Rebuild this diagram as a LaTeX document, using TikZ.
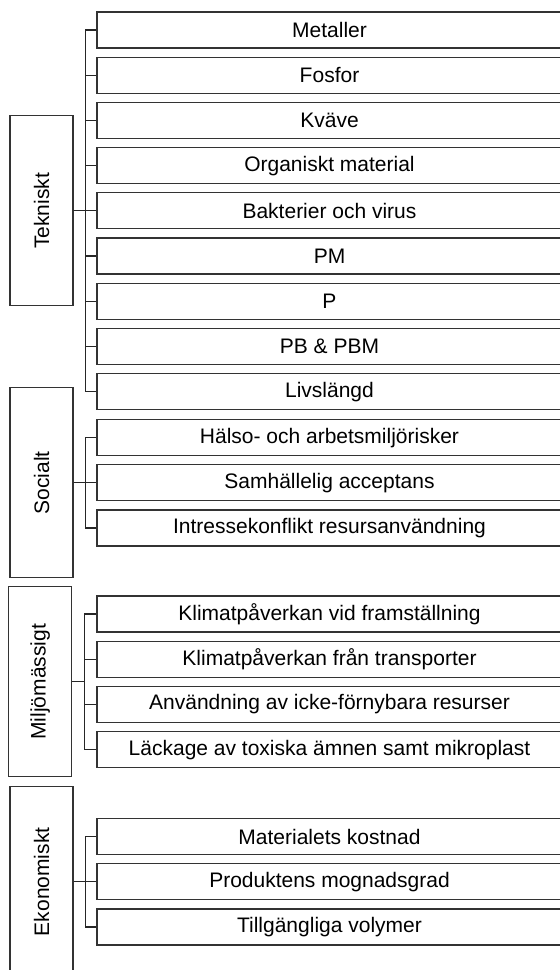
\documentclass[tikz,border=0pt]{standalone}
\usepackage{fontspec}
\setmainfont{Liberation Sans}
\usepackage{tikz}
\usetikzlibrary{positioning, calc}

\begin{document}
\begin{tikzpicture}[
    x=0.5pt, y=0.5pt,
    font=\fontsize{10.5}{12}\selectfont,
    item/.style={rectangle, draw=black!80, line width=0.6pt, minimum width=232.5pt, minimum height=18pt, inner sep=0pt, align=center},
    group/.style={rectangle, draw=black!80, line width=0.6pt, minimum width=31.5pt, minimum height=95pt, inner sep=0pt},
    link/.style={draw=black!85, line width=0.6pt}
]
    \useasboundingbox (0,0) rectangle (560,-970);

    % Tekniskt
    \node[item] (met) at (329.5,-30) {Metaller};
    \node[item, below=4pt of met] (fos) {Fosfor};
    \node[item, below=4pt of fos] (kva) {Kväve};
    \node[item, below=4pt of kva] (org) {Organiskt material};
    \node[item, below=4pt of org] (bak) {Bakterier och virus};
    \node[item, below=4pt of bak] (pm) {PM};
    \node[item, below=4pt of pm] (p) {P};
    \node[item, below=4pt of p] (pb) {PB \& PBM};
    \node[item, below=4pt of pb] (liv) {Livslängd};
    \node[group, left=11.4pt of bak] (tek) {\rotatebox{90}{Tekniskt}};

    % Socialt
    \node[item, below=4.4pt of liv] (hal) {Hälso- och arbetsmiljörisker};
    \node[item, below=4pt of hal] (sam) {Samhällelig acceptans};
    \node[item, below=4pt of sam] (int) {Intressekonflikt resursanvändning};
    \node[group, left=11.4pt of sam] (soc) {\rotatebox{90}{Socialt}};

    % Miljömässigt
    \node[item, below=24.4pt of int] (kfr) {Klimatpåverkan vid framställning};
    \node[item, below=4pt of kfr] (ktr) {Klimatpåverkan från transporter};
    \node[item, below=4pt of ktr] (anv) {Användning av icke-förnybara resurser};
    \node[item, below=4pt of anv] (lac) {Läckage av toxiska ämnen samt mikroplast};
    \node[group, anchor=east] (mil) at ($(ktr.west)!0.5!(anv.west)+(-24,0)$) {\rotatebox{90}{Miljömässigt}};

    % Ekonomiskt
    \node[item, below=24.9pt of lac] (mat) {Materialets kostnad};
    \node[item, below=4pt of mat] (pro) {Produktens mognadsgrad};
    \node[item, below=4pt of pro] (til) {Tillgängliga volymer};
    \node[group, left=11.4pt of pro] (eko) {\rotatebox{90}{Ekonomiskt}};

    % Connectors
    \foreach \c in {met,fos,kva,org,bak,pm,p,pb,liv}
        \draw[link] (tek.east) -- ++(12,0) |- (\c.west);
    \foreach \c in {hal,sam,int}
        \draw[link] (soc.east) -- ++(12,0) |- (\c.west);
    \foreach \c in {kfr,ktr,anv,lac}
        \draw[link] (mil.east) -- ++(12,0) |- (\c.west);
    \foreach \c in {mat,pro,til}
        \draw[link] (eko.east) -- ++(12,0) |- (\c.west);
\end{tikzpicture}
\end{document}
